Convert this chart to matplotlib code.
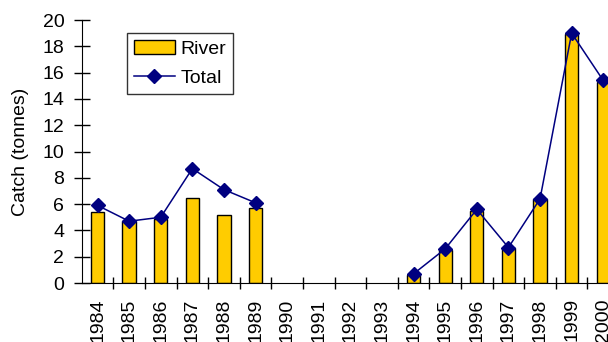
import numpy as np
import matplotlib
matplotlib.use("Agg")
import matplotlib.pyplot as plt

plt.rcParams['font.family'] = ['Liberation Sans', 'DejaVu Sans']

# Catch by year (tonnes); no records 1990-1993
years = ["1984", "1985", "1986", "1987", "1988", "1989", "1990", "1991",
         "1992", "1993", "1994", "1995", "1996", "1997", "1998", "1999", "2000"]
river = [5.4, 4.7, 4.9, 6.5, 5.2, 5.7, np.nan, np.nan, np.nan, np.nan,
         0.6, 2.5, 5.5, 2.7, 6.4, 18.9, 15.3]
total = [5.9, 4.7, 5.0, 8.7, 7.1, 6.1, np.nan, np.nan, np.nan, np.nan,
         0.7, 2.6, 5.6, 2.7, 6.4, 19.0, 15.4]

fs = 14
x = np.arange(len(years))

fig = plt.figure(figsize=(6.08, 3.42), dpi=100)
ax = fig.add_axes([0.1344, 0.1725, 0.8656, 0.769])

bars = ax.bar(x, river, width=0.42, color="#FFCC00", edgecolor="black",
              linewidth=1.0, label="River", zorder=2)
line, = ax.plot(x, total, color="#000080", lw=1.1, marker="D", ms=7,
                label="Total", zorder=3)

### AXES
ax.set_xlim(-0.5, 16.15)
ax.set_ylim(0, 20)
ax.set_yticks(range(0, 21, 2))
ax.set_xticks(x)
ax.set_xticklabels(years, rotation=90, fontsize=fs)
ax.set_xticks(x[:-1] + 0.5, minor=True)
ax.tick_params(axis="x", which="major", length=0, pad=11)
ax.tick_params(axis="x", which="minor", direction="inout", length=9,
               width=1.0)
ax.tick_params(axis="y", direction="inout", length=11, width=1.0,
               labelsize=fs, pad=7)
ax.spines["top"].set_visible(False)
ax.spines["right"].set_visible(False)
ax.set_ylabel("Catch (tonnes)", fontsize=fs, labelpad=10)

### LEGEND
leg = ax.legend(handles=[bars, line], loc="upper left",
                bbox_to_anchor=(0.086, 0.95), borderaxespad=0, fontsize=fs,
                frameon=True, fancybox=False, edgecolor="black",
                handlelength=2.1, handletextpad=0.3, borderpad=0.35,
                labelspacing=0.6)
leg.get_frame().set_linewidth(1.0)

fig.savefig("out.png", dpi=100)
